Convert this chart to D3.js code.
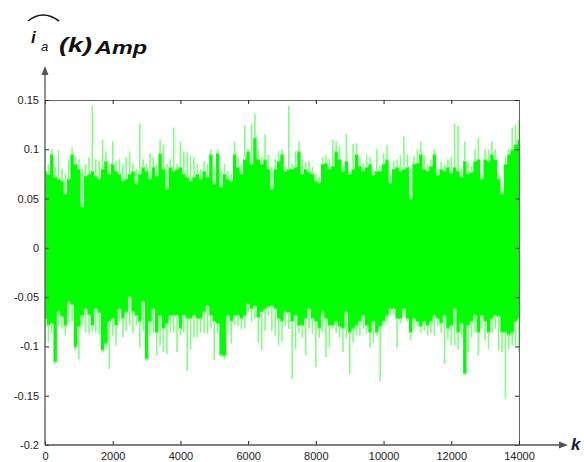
<!DOCTYPE html>
<html>
<head>
<meta charset="utf-8">
<script src="https://cdn.jsdelivr.net/npm/d3@7"></script>
<style>
  html, body { margin: 0; padding: 0; background: #fff; }
  svg { display: block; }
  .tick text { font-family: Arial, "Liberation Sans", sans-serif; font-size: 11px; fill: #222; }
</style>
</head>
<body>
<svg id="chart" width="584" height="462"></svg>
<script>
// Sample index k, one bin every 100 samples (0 … 14000)
const binStep = 100;
const kBins = d3.range(0, 14001, binStep);

// Per-bin extremes of the estimated current i_a(k) in Amp:
// peakHi / peakLo are the single-sample extremes, coreHi / coreLo the dense band
const peakHi = [
  0.100,0.085,0.100,0.082,0.099,0.080,0.075,0.090,0.102,0.093,
  0.090,0.080,0.085,0.092,0.144,0.090,0.088,0.110,0.098,0.085,
  0.108,0.088,0.090,0.084,0.092,0.098,0.085,0.080,0.126,0.090,
  0.085,0.096,0.092,0.085,0.110,0.105,0.085,0.090,0.122,0.085,
  0.108,0.098,0.097,0.093,0.092,0.085,0.080,0.088,0.085,0.100,
  0.082,0.100,0.078,0.085,0.078,0.075,0.108,0.092,0.085,0.124,
  0.100,0.126,0.136,0.100,0.092,0.115,0.095,0.082,0.090,0.098,
  0.100,0.083,0.144,0.085,0.098,0.108,0.090,0.087,0.088,0.082,
  0.075,0.072,0.092,0.094,0.090,0.110,0.108,0.103,0.084,0.116,
  0.078,0.105,0.106,0.092,0.086,0.095,0.092,0.080,0.100,0.083,
  0.096,0.104,0.075,0.088,0.090,0.094,0.113,0.095,0.080,0.093,
  0.100,0.108,0.094,0.085,0.090,0.100,0.080,0.087,0.085,0.090,
  0.092,0.126,0.124,0.080,0.108,0.086,0.083,0.100,0.112,0.075,
  0.100,0.100,0.108,0.100,0.075,0.062,0.092,0.100,0.122,0.125,
  0.130
];
const coreHi = [
  0.078,0.075,0.095,0.072,0.070,0.068,0.055,0.070,0.095,0.085,
  0.080,0.042,0.073,0.075,0.078,0.073,0.070,0.080,0.088,0.075,
  0.085,0.078,0.075,0.068,0.070,0.075,0.078,0.065,0.075,0.082,
  0.078,0.070,0.082,0.073,0.096,0.080,0.060,0.082,0.078,0.080,
  0.082,0.075,0.072,0.068,0.072,0.075,0.070,0.078,0.072,0.095,
  0.065,0.096,0.062,0.075,0.070,0.068,0.095,0.082,0.075,0.090,
  0.098,0.085,0.112,0.090,0.085,0.090,0.080,0.060,0.080,0.088,
  0.095,0.078,0.080,0.080,0.082,0.098,0.075,0.080,0.077,0.075,
  0.068,0.066,0.085,0.086,0.080,0.083,0.098,0.090,0.078,0.088,
  0.075,0.080,0.095,0.083,0.078,0.082,0.085,0.074,0.078,0.078,
  0.085,0.090,0.066,0.080,0.082,0.078,0.080,0.082,0.050,0.085,
  0.086,0.095,0.080,0.078,0.083,0.095,0.074,0.080,0.078,0.082,
  0.076,0.082,0.078,0.072,0.088,0.075,0.077,0.088,0.090,0.070,
  0.090,0.088,0.095,0.090,0.070,0.055,0.085,0.095,0.100,0.105,
  0.110
];
const coreLo = [
  -0.072,-0.079,-0.077,-0.116,-0.065,-0.070,-0.079,-0.055,-0.058,-0.101,
  -0.080,-0.069,-0.062,-0.068,-0.079,-0.062,-0.066,-0.104,-0.097,-0.075,
  -0.072,-0.079,-0.062,-0.072,-0.065,-0.050,-0.065,-0.069,-0.075,-0.055,
  -0.113,-0.075,-0.062,-0.086,-0.069,-0.082,-0.077,-0.069,-0.069,-0.069,
  -0.082,-0.069,-0.072,-0.072,-0.069,-0.072,-0.072,-0.065,-0.059,-0.069,
  -0.075,-0.077,-0.109,-0.110,-0.069,-0.075,-0.069,-0.069,-0.072,-0.069,
  -0.057,-0.062,-0.059,-0.071,-0.065,-0.062,-0.060,-0.059,-0.062,-0.072,
  -0.075,-0.065,-0.066,-0.075,-0.069,-0.079,-0.079,-0.072,-0.062,-0.072,
  -0.075,-0.082,-0.065,-0.072,-0.079,-0.079,-0.075,-0.080,-0.082,-0.065,
  -0.086,-0.082,-0.079,-0.075,-0.069,-0.079,-0.086,-0.075,-0.086,-0.080,
  -0.075,-0.069,-0.062,-0.062,-0.072,-0.072,-0.062,-0.072,-0.086,-0.072,
  -0.075,-0.080,-0.075,-0.079,-0.075,-0.069,-0.072,-0.077,-0.069,-0.082,
  -0.079,-0.062,-0.086,-0.077,-0.128,-0.079,-0.075,-0.069,-0.086,-0.069,
  -0.075,-0.086,-0.072,-0.069,-0.070,-0.086,-0.086,-0.089,-0.086,-0.075,
  -0.072
];
const peakLo = [
  -0.099,-0.096,-0.086,-0.118,-0.080,-0.082,-0.088,-0.076,-0.075,-0.104,
  -0.113,-0.079,-0.086,-0.087,-0.086,-0.086,-0.088,-0.106,-0.103,-0.123,
  -0.089,-0.099,-0.075,-0.091,-0.084,-0.079,-0.087,-0.079,-0.101,-0.084,
  -0.115,-0.089,-0.086,-0.109,-0.099,-0.106,-0.108,-0.086,-0.086,-0.106,
  -0.089,-0.086,-0.125,-0.103,-0.091,-0.091,-0.086,-0.086,-0.087,-0.082,
  -0.114,-0.086,-0.111,-0.113,-0.086,-0.097,-0.079,-0.079,-0.082,-0.082,
  -0.065,-0.075,-0.072,-0.096,-0.104,-0.084,-0.069,-0.084,-0.089,-0.099,
  -0.095,-0.079,-0.082,-0.133,-0.103,-0.086,-0.091,-0.109,-0.082,-0.087,
  -0.121,-0.091,-0.086,-0.111,-0.101,-0.082,-0.086,-0.091,-0.106,-0.092,
  -0.128,-0.096,-0.089,-0.089,-0.082,-0.087,-0.101,-0.096,-0.089,-0.135,
  -0.079,-0.075,-0.069,-0.068,-0.101,-0.077,-0.069,-0.075,-0.093,-0.082,
  -0.080,-0.086,-0.084,-0.089,-0.086,-0.089,-0.079,-0.086,-0.118,-0.093,
  -0.099,-0.099,-0.103,-0.091,-0.129,-0.106,-0.091,-0.086,-0.109,-0.082,
  -0.094,-0.103,-0.086,-0.082,-0.104,-0.106,-0.153,-0.103,-0.099,-0.099,
  -0.106
];

// Axis ticks
const xTicks = [0, 2000, 4000, 6000, 8000, 10000, 12000, 14000];
const yTicks = [-0.2, -0.15, -0.1, -0.05, 0, 0.05, 0.1, 0.15];

const svg = d3.select("#chart");
const mLeft = 45, mRight = 519, mTop = 100, mBottom = 445;

const x = d3.scaleLinear().domain([0, 14000]).range([mLeft, mRight]);
const y = d3.scaleLinear().domain([-0.2, 0.15]).range([mBottom, mTop]);

svg.append("defs").append("clipPath").attr("id", "plotClip")
  .append("rect").attr("x", mLeft).attr("y", mTop)
  .attr("width", mRight - mLeft).attr("height", mBottom - mTop);

const bins = kBins.map((k, i) => ({
  k, pHi: peakHi[i], cHi: coreHi[i], cLo: coreLo[i], pLo: peakLo[i]
}));

const plot = svg.append("g").attr("clip-path", "url(#plotClip)");

// Dense body of the signal: one stepped band, each bin centred on its k
const band = d3.area()
  .curve(d3.curveStep)
  .x(d => x(d.k))
  .y0(d => y(d.cLo))
  .y1(d => y(d.cHi));
plot.append("path").datum(bins).attr("d", band).attr("fill", "#00ff00");

// Isolated excursions above and below the body
const spikes = plot.append("g").attr("stroke", "#80ff80").attr("stroke-width", 1.6);
spikes.selectAll("line.hi").data(bins).join("line").attr("class", "hi")
  .attr("x1", d => x(d.k)).attr("x2", d => x(d.k))
  .attr("y1", d => y(d.cHi) + 1).attr("y2", d => y(d.pHi));
spikes.selectAll("line.lo").data(bins).join("line").attr("class", "lo")
  .attr("x1", d => x(d.k)).attr("x2", d => x(d.k))
  .attr("y1", d => y(d.cLo) - 1).attr("y2", d => y(d.pLo));

// Box: top and right edges with inward ticks
svg.append("g").attr("transform", `translate(0,${mTop})`)
  .call(d3.axisTop(x).tickValues(xTicks).tickSize(-4).tickSizeOuter(0).tickFormat(""))
  .call(g => g.select(".domain").attr("stroke", "#666"))
  .call(g => g.selectAll(".tick line").attr("stroke", "#222"));
svg.append("g").attr("transform", `translate(${mRight},0)`)
  .call(d3.axisRight(y).tickValues(yTicks).tickSize(-4).tickSizeOuter(0).tickFormat(""))
  .call(g => g.select(".domain").attr("stroke", "#666"))
  .call(g => g.selectAll(".tick line").attr("stroke", "#222"));

// Bottom and left axes with labels
svg.append("g").attr("transform", `translate(0,${mBottom})`)
  .call(d3.axisBottom(x).tickValues(xTicks).tickSize(-4).tickSizeOuter(0).tickPadding(7)
    .tickFormat(d3.format("d")))
  .call(g => g.select(".domain").remove())
  .call(g => g.selectAll(".tick line").attr("stroke", "#222"));
svg.append("g").attr("transform", `translate(${mLeft},0)`)
  .call(d3.axisLeft(y).tickValues(yTicks).tickSize(-4).tickSizeOuter(0).tickPadding(6)
    .tickFormat(d => d === 0 ? "0" : String(+d.toFixed(2))))
  .call(g => g.select(".domain").remove())
  .call(g => g.selectAll(".tick line").attr("stroke", "#222"));

// Axis lines extended into arrows
const axisColor = "#555";
svg.append("line").attr("x1", mLeft).attr("x2", 562).attr("y1", mBottom).attr("y2", mBottom)
  .attr("stroke", axisColor).attr("stroke-width", 1.3);
svg.append("path").attr("d", `M568,${mBottom} L559,${mBottom - 3.5} L559,${mBottom + 3.5} Z`)
  .attr("fill", axisColor);
svg.append("line").attr("x1", mLeft).attr("x2", mLeft).attr("y1", mBottom).attr("y2", 73)
  .attr("stroke", axisColor).attr("stroke-width", 1.3);
svg.append("path").attr("d", `M${mLeft},66 L${mLeft - 3.5},75 L${mLeft + 3.5},75 Z`)
  .attr("fill", axisColor);

// Axis names
const nameFont = "Arial, 'Liberation Sans', sans-serif";
svg.append("text").attr("x", 571).attr("y", 450)
  .attr("font-family", nameFont).attr("font-style", "italic").attr("font-weight", "bold")
  .attr("font-size", 17).attr("fill", "#1a1a3a").text("k");

const titleText = (xPos, yPos, size, weight, txt, len) => {
  const t = svg.append("text").attr("x", xPos).attr("y", yPos)
    .attr("font-family", nameFont).attr("font-style", "italic")
    .attr("font-weight", weight).attr("font-size", size).attr("fill", "#111").text(txt);
  if (len) t.attr("textLength", len).attr("lengthAdjust", "spacingAndGlyphs");
  return t;
};
titleText(31, 43, 17, "bold", "i");
titleText(41, 51, 13, "normal", "a");
titleText(59, 52, 21, "bold", "(k)", 33);
titleText(95, 54, 18, "bold", "Amp", 52);
// Estimate hat over i_a
svg.append("path").attr("d", "M28,21 Q43,9 59,21")
  .attr("fill", "none").attr("stroke", "#111").attr("stroke-width", 1.6);
</script>
</body>
</html>
